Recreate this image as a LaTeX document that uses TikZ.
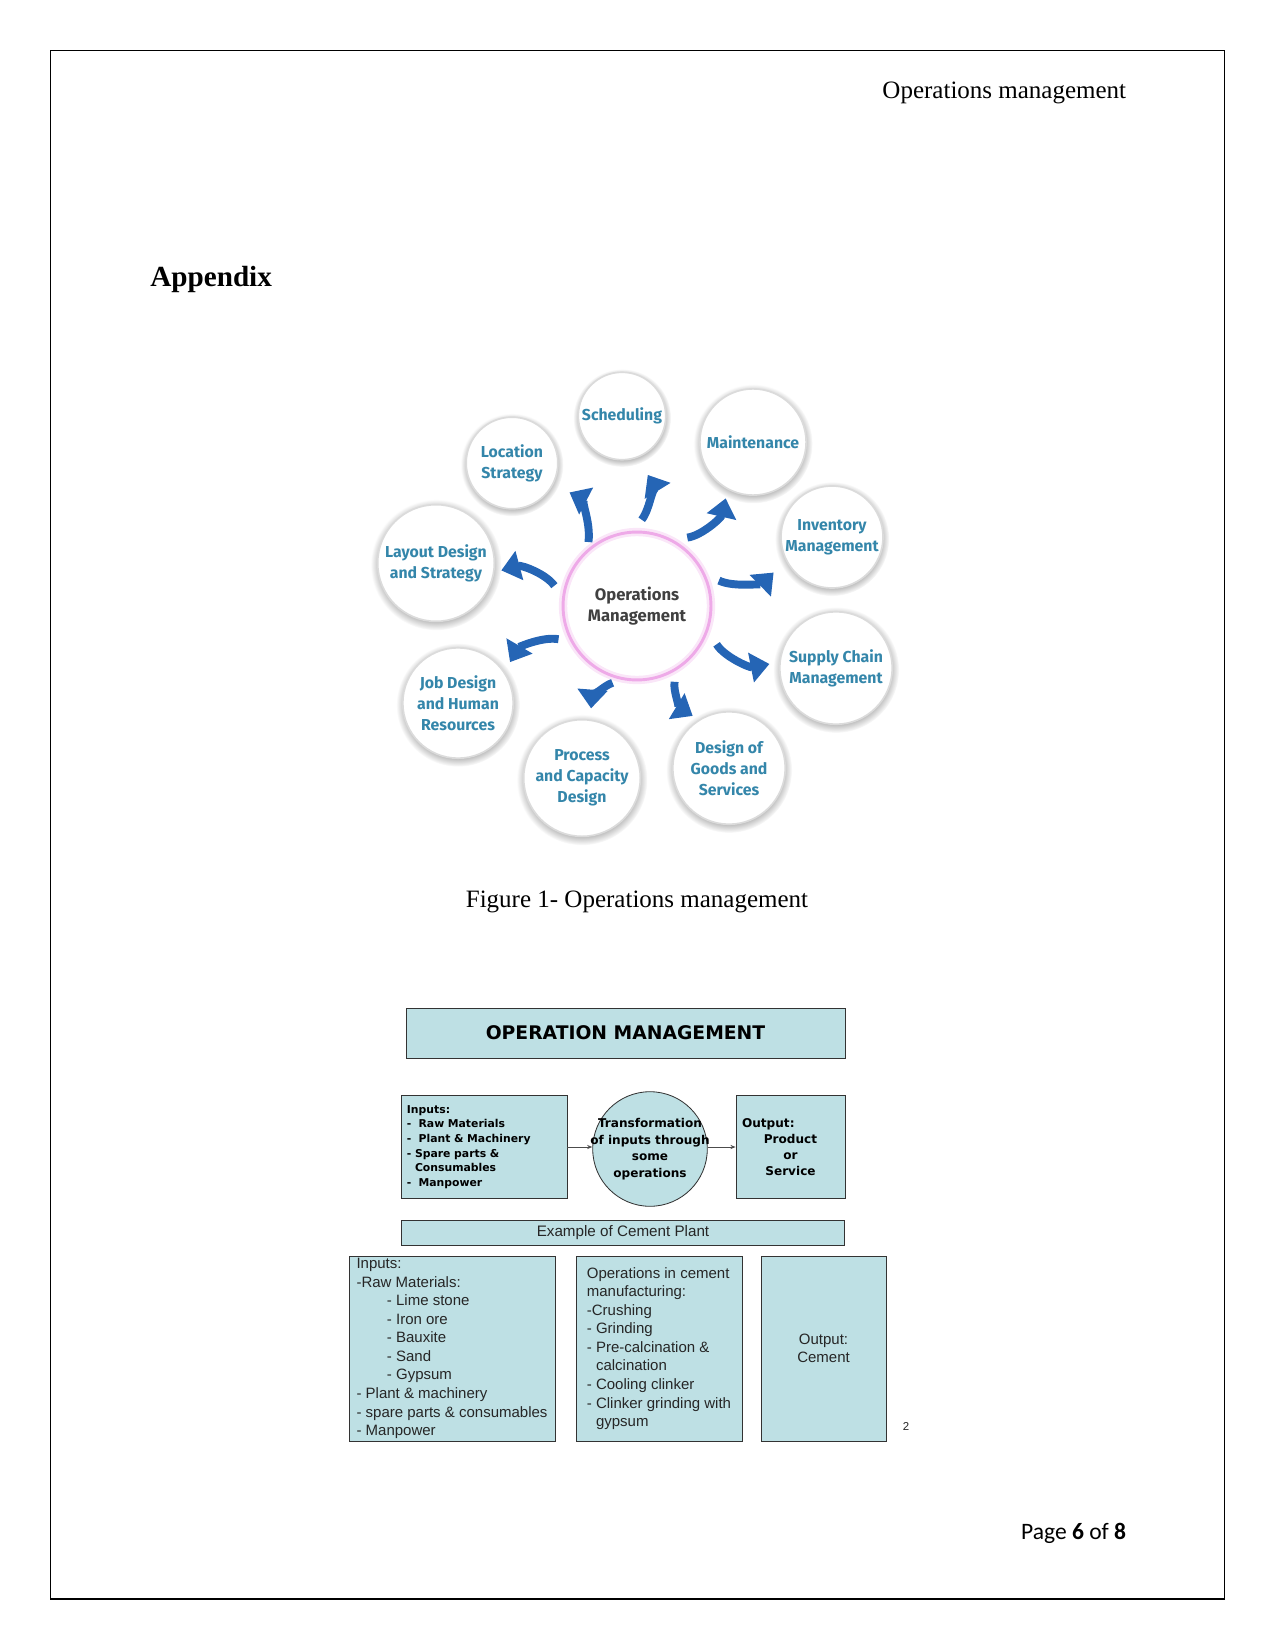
\documentclass[tikz,border=0pt]{standalone}
\usepackage{fontspec}
\setmainfont{Liberation Serif}
\setsansfont{Liberation Sans}
\newfontfamily\fira{Fira Sans}
\newfontfamily\deja{DejaVu Sans}
\newfontfamily\carl{Carlito}
\usetikzlibrary{arrows.meta,shadows}
\definecolor{ombl}{RGB}{37,101,181}
\definecolor{omtxt}{RGB}{52,134,170}
\definecolor{ompink}{RGB}{238,170,232}
\definecolor{omteal}{RGB}{190,224,228}
\tikzset{>=Stealth,
  bubble/.style={circle,fill=white,draw=black!14,line width=.8pt,inner sep=0pt,text=omtxt,align=center,
    font=\fira\bfseries\fontsize{7.6}{10}\selectfont,
    circular drop shadow={shadow scale=1.12,shadow xshift=0pt,shadow yshift=-.8pt,opacity=.55}},
  flow/.style={draw=ombl,line width=3.8pt,-{Triangle[length=9pt,width=14pt]},bend right=35},
  box/.style={draw=black!80,fill=omteal,line width=.4pt,inner sep=0pt},
  boldtxt/.style 2 args={font=\deja\bfseries\fontsize{#1}{#2}\selectfont},
  link/.style={draw=black!70,line width=.4pt,-{Stealth[length=2.5pt,width=2pt]}}}

\begin{document}
\begin{tikzpicture}[x=.48pt,y=-.48pt]
\useasboundingbox (0,0) rectangle (1275,1650);
\draw[line width=.5pt] (50.5,50.5) rectangle (1224.5,1599);
\node[anchor=base east,font=\fontsize{12}{14}\selectfont] (hdr) at (1133.5,99) {Operations management};
\node[anchor=base west,font=\bfseries\fontsize{14}{17}\selectfont] (app) at (143,287) {Appendix};
% figure 1
\node[circle,minimum size=71pt,draw=ompink,line width=1.4pt,preaction={draw=ompink!30,line width=4pt},
  align=center,text=black!75,font=\fira\bfseries\fontsize{8}{10}\selectfont] (om) at (637,606) {Operations\\Management};
\node[bubble,minimum size=42pt] (sched) at (622,416) {Scheduling};
\node[bubble,minimum size=51pt] (maint) at (753,442) {Maintenance};
\node[bubble,minimum size=44pt] (loc) at (512,463) {Location\\Strategy};
\node[bubble,minimum size=56pt] (lay) at (436,563) {Layout Design\\and Strategy};
\node[bubble,minimum size=49pt] (inv) at (832,537) {Inventory\\Management};
\node[bubble,minimum size=54pt] (sup) at (836,668) {Supply Chain\\Management};
\node[bubble,minimum size=53pt] (job) at (458,703) {Job Design\\and Human\\Resources};
\node[bubble,minimum size=56pt] (proc) at (582,778) {Process\\and Capacity\\Design};
\node[bubble,minimum size=54pt] (dgs) at (729,768) {Design of\\Goods and\\Services};
\draw[flow,shorten <=3.4pt,shorten >=8.6pt] (om.131) to (loc.-27);
\draw[flow,shorten <=6.7pt,shorten >=9.6pt] (om.93) to (sched.-70);
\draw[flow,shorten <=7.2pt,shorten >=4.3pt] (om.62) to (maint.242);
\draw[flow,shorten <=7.2pt,shorten >=8.2pt] (om.25) to (inv.207);
\draw[flow,shorten <=7.7pt,shorten >=4.8pt] (om.-19) to (sup.174);
\draw[flow,shorten <=5.8pt,shorten >=3.4pt] (om.-58) to (dgs.122);
\draw[flow,shorten <=5pt,shorten >=5.3pt] (om.-101) to (proc.82);
\draw[flow,shorten <=5.8pt,shorten >=5.3pt] (om.208) to (job.34);
\draw[flow,shorten <=6.5pt,shorten >=3.4pt] (om.173) to (lay.-9);
\node[anchor=base,font=\fontsize{12}{14}\selectfont] (cap) at (637,907) {Figure 1- Operations management};
% figure 2
\node[box,boldtxt={9}{11},minimum width=210.7pt,minimum height=24pt] (title) at (625.5,1033) {OPERATION MANAGEMENT};
\node[box,boldtxt={5.2}{7},minimum width=79.7pt,minimum height=49.4pt,text width=74pt,align=left] (inp) at (484,1147)
  {Inputs:\\-\ \ Raw Materials\\-\ \ Plant \& Machinery\\- Spare parts \&\\\phantom{-\ }Consumables\\-\ \ Manpower};
\node[box,circle,boldtxt={5.8}{7.9},inner sep=-6pt,minimum size=55pt,align=center] (trans) at (650,1149)
  {Transformation\\of inputs through\\some\\operations};
\node[box,boldtxt={5.8}{7.7},minimum width=52.3pt,minimum height=49.4pt,text width=46.5pt,align=center] (outp) at (790.5,1147)
  {\makebox[\linewidth][l]{Output:}\\Product\\or\\Service};
\draw[link] (inp) -- (inp -| trans.west);
\draw[link] (trans.east |- outp) -- (outp);
\node[box,minimum width=213pt,minimum height=12pt,text=black!85,font=\sffamily\fontsize{7.3}{9}\selectfont] (expl) at (623,1232.5) {Example of Cement Plant};
\begin{scope}[every node/.append style={text=black!85,font=\sffamily\fontsize{7.2}{8.9}\selectfont}]
\node[box,minimum width=98.9pt,minimum height=88.8pt,align=left] (cinp) at (452,1348.5)
  {Inputs:\\-Raw Materials:\\\hspace*{14.6pt}- Lime stone\\\hspace*{14.6pt}- Iron ore\\\hspace*{14.6pt}- Bauxite\\\hspace*{14.6pt}- Sand\\\hspace*{14.6pt}- Gypsum\\- Plant \& machinery\\- spare parts \& consumables\\- Manpower};
\node[box,minimum width=79.7pt,minimum height=88.8pt,align=left] (cops) at (659,1348.5)
  {Operations in cement\\manufacturing:\\-Crushing\\- Grinding\\- Pre-calcination \&\\\phantom{- }calcination\\- Cooling clinker\\- Clinker grinding with\\\phantom{- }gypsum};
\node[box,minimum width=60pt,minimum height=88.8pt,align=center] (cout) at (823.5,1348.5) {Output:\\Cement};
\node[font=\sffamily\fontsize{5.5}{6}\selectfont] (slide) at (906,1426) {2};
\end{scope}
\node[anchor=base east,font=\carl\fontsize{11.3}{13}\selectfont] (pg) at (1133.5,1539) {Page \textbf{6} of \textbf{8}};
\end{tikzpicture}
\end{document}
